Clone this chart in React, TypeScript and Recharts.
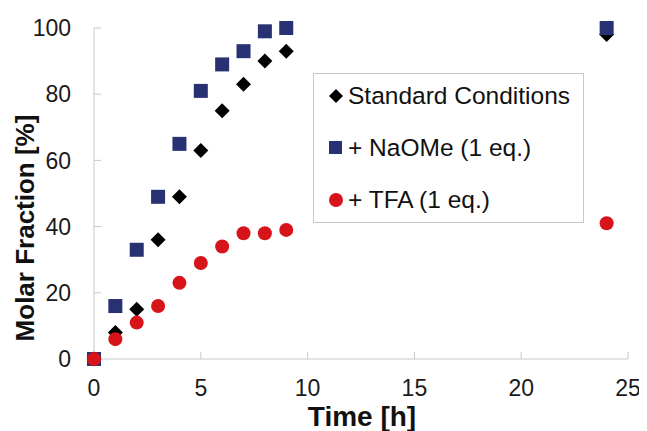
import React from "react"
import { ScatterChart, Scatter, XAxis, YAxis } from "recharts"

const times = [0, 1, 2, 3, 4, 5, 6, 7, 8, 9, 24]
const standardValues = [0, 8, 15, 36, 49, 63, 75, 83, 90, 93, 98]
const naomeValues = [0, 16, 33, 49, 65, 81, 89, 93, 99, 100, 100]
const tfaValues = [0, 6, 11, 16, 23, 29, 34, 38, 38, 39, 41]
const xTicks = [0, 5, 10, 15, 20, 25]
const yTicks = [0, 20, 40, 60, 80, 100]

const FONT = '"Liberation Sans", Arial, sans-serif'
const AXIS_GRAY = "#c8c8c8"
const NAVY = "#283172"
const RED = "#d7141a"

const toPoints = (vals: number[]) => times.map((t, i) => ({ x: t, y: vals[i] }))

const Diamond = (props: any) => {
  const { cx, cy } = props
  const r = 7.5
  return <polygon points={`${cx},${cy - r} ${cx + r},${cy} ${cx},${cy + r} ${cx - r},${cy}`} fill="#000" />
}
const Square = (props: any) => {
  const { cx, cy } = props
  return <rect x={cx - 7} y={cy - 7} width={14} height={14} fill={NAVY} />
}
const Dot = (props: any) => {
  const { cx, cy } = props
  return <circle cx={cx} cy={cy} r={7} fill={RED} />
}

const series = [
  { name: "Standard Conditions", data: toPoints(standardValues), shape: Diamond },
  { name: "+ NaOMe (1 eq.)", data: toPoints(naomeValues), shape: Square },
  { name: "+ TFA (1 eq.)", data: toPoints(tfaValues), shape: Dot },
]

// legend drawn as an overlay so it doesn't eat plot space
const LegendBox = () => (
  <div
    style={{
      position: "absolute",
      left: 313,
      top: 73,
      width: 269,
      height: 148,
      border: `1.5px solid ${AXIS_GRAY}`,
      background: "#fff",
      fontFamily: FONT,
      fontSize: 24.5,
      color: "#111",
    }}
  >
    {series.map((s, i) => (
      <div key={s.name} style={{ position: "absolute", left: 14, top: 7 + i * 52, height: 30, display: "flex", alignItems: "center", whiteSpace: "nowrap" }}>
        <svg width={16} height={16} style={{ marginRight: 4 }}>
          {i === 0 && <polygon points="8,1 15,8 8,15 1,8" fill="#000" />}
          {i === 1 && <rect x={1} y={1} width={13} height={13} fill={NAVY} />}
          {i === 2 && <circle cx={8} cy={8} r={7} fill={RED} />}
        </svg>
        <span>{s.name}</span>
      </div>
    ))}
  </div>
)

const titleStyle = { fill: "#111", fontWeight: "bold", fontFamily: FONT } as const

const YTitle = () => (
  <text x={25} y={228} transform="rotate(-90, 25, 228)" textAnchor="middle" dominantBaseline="central" fontSize={26} {...titleStyle}>
    Molar Fraction [%]
  </text>
)

const XTitle = () => (
  <text x={362} y={426} textAnchor="middle" fontSize={28} {...titleStyle}>
    Time [h]
  </text>
)

export default function App() {
  // extra 8px of height offsets the negative bottom margin so nothing is cut
  return (
    <div style={{ margin: -8, width: 647, height: 439, position: "relative", background: "#fff", overflow: "hidden" }}>
      <div style={{ position: "absolute", left: 0, top: 0, width: 647, height: 2, background: "#3b4a8c" }} />
      <ScatterChart width={647} height={431} margin={{ top: 28, right: 19, bottom: 0, left: 0 }}>
        <XAxis
          type="number"
          dataKey="x"
          domain={[0, 25]}
          ticks={xTicks}
          height={72}
          stroke={AXIS_GRAY}
          tickSize={-7}
          tickMargin={28}
          tick={{ fill: "#1a1a1a", fontSize: 23, fontFamily: FONT }}
          label={{ content: () => <XTitle /> }}
        />
        <XAxis xAxisId="top" orientation="top" type="number" domain={[0, 25]} height={0} tick={false} tickLine={false} stroke={AXIS_GRAY} />
        <YAxis
          type="number"
          dataKey="y"
          domain={[0, 100]}
          ticks={yTicks}
          width={94}
          stroke={AXIS_GRAY}
          tickSize={-7}
          tickMargin={30}
          tick={{ fill: "#1a1a1a", fontSize: 23, fontFamily: FONT }}
          label={{ content: () => <YTitle /> }}
        />
        <YAxis yAxisId="right" orientation="right" type="number" domain={[0, 100]} width={0} tick={false} tickLine={false} stroke={AXIS_GRAY} />
        {series.map((s) => (
          <Scatter key={s.name} name={s.name} data={s.data} shape={s.shape} isAnimationActive={false} />
        ))}
      </ScatterChart>
      <LegendBox />
    </div>
  )
}
